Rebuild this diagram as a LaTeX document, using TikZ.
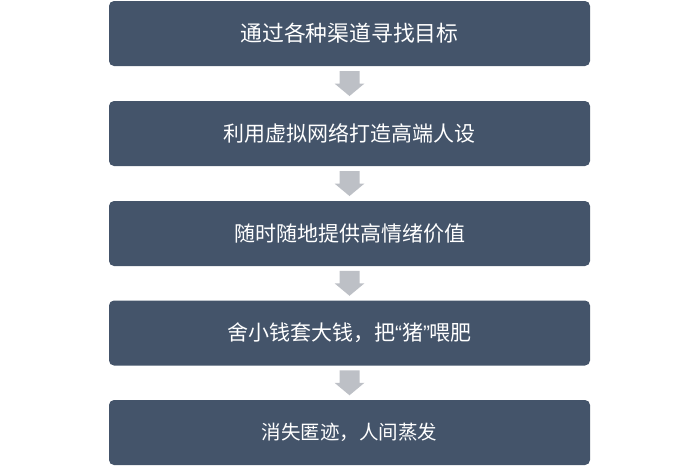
\documentclass[tikz,border=0pt]{standalone}
\usepackage{fontspec}
\newfontfamily\cjk{Noto Sans CJK SC}
\newfontfamily\latn{Liberation Sans}
\definecolor{boxc}{HTML}{44546A}
\definecolor{arrc}{HTML}{BDC0C6}
\begin{document}
\begin{tikzpicture}[x=1pt,y=-1pt,
  stepbox/.style={fill=boxc, rounded corners=5pt, minimum width=481pt, minimum height=65pt, inner sep=0pt, text=white, font=\cjk\fontsize{21}{23}\selectfont},
  arr/.style={fill=arrc}]
\useasboundingbox (0,0) rectangle (700,467);
\node[stepbox, font=\cjk\fontsize{21.8}{23}\selectfont] (b1) at (349.5,33.5) {通过各种渠道寻找目标};
\node[stepbox] (b2) at (349.5,133.5) {利用虚拟网络打造高端人设};
\node[stepbox] (b3) at (349.5,233.5) {随时随地提供高情绪价值};
\node[stepbox] (b4) at (349.5,333) {舍小钱套大钱，把{\latn “}猪{\latn ”}喂肥};
\node[stepbox, font=\cjk\fontsize{19.5}{21}\selectfont] (b5) at (349.5,432.5) {消失匿迹，人间蒸发};
\foreach \a/\b in {b1/b2,b2/b3,b3/b4,b4/b5}{
  \path (\a.south) -- (\b.north) coordinate[pos=0.5] (m);
  \fill[arr] ([xshift=-10pt,yshift=12.5pt]m) -- ([xshift=10pt,yshift=12.5pt]m) -- ([xshift=10pt,yshift=0pt]m) -- ([xshift=15pt,yshift=0pt]m) -- ([yshift=-12.5pt]m) -- ([xshift=-15pt,yshift=0pt]m) -- ([xshift=-10pt,yshift=0pt]m) -- cycle;
}
\end{tikzpicture}
\end{document}
